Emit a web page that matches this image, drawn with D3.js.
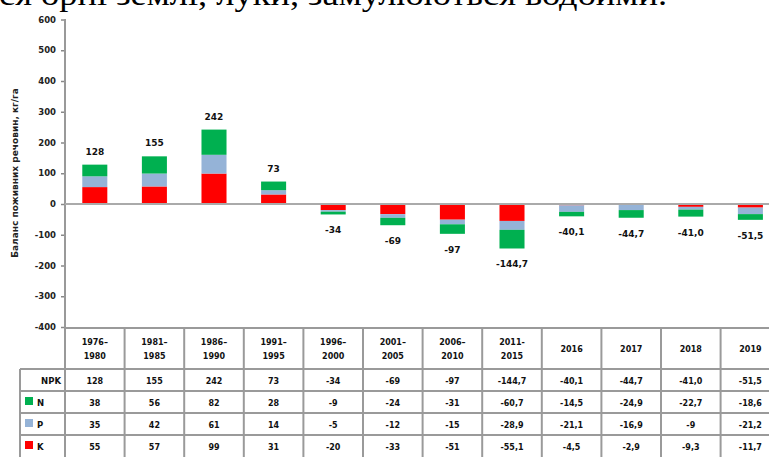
<!DOCTYPE html>
<html>
<head>
<meta charset="utf-8">
<script src="https://cdn.jsdelivr.net/npm/d3@7"></script>
<style>
  body { margin: 0; background: #fff; }
  svg { display: block; }
</style>
</head>
<body>
<div class="container"></div>
<script>
const WIDTH = 769;
const HEIGHT = 457;

// data
var categories = ["1976–\n1980", "1981–\n1985", "1986–\n1990", "1991–\n1995", "1996–\n2000",
    "2001–\n2005", "2006–\n2010", "2011-\n2015", "2016", "2017", "2018", "2019"];
var npk = [128, 155, 242, 73, -34, -69, -97, -144.7, -40.1, -44.7, -41.0, -51.5];
var nVals = [38, 56, 82, 28, -9, -24, -31, -60.7, -14.5, -24.9, -22.7, -18.6];
var pVals = [35, 42, 61, 14, -5, -12, -15, -28.9, -21.1, -16.9, -9, -21.2];
var kVals = [55, 57, 99, 31, -20, -33, -51, -55.1, -4.5, -2.9, -9.3, -11.7];
var yTicks = [-400, -300, -200, -100, 0, 100, 200, 300, 400, 500, 600];

var colors = { N: "#00b050", P: "#95b3d7", K: "#ff0000" };
var FONT = "DejaVu Sans";

var svg = d3.select(".container")
    .append("svg")
    .attr("width", WIDTH)
    .attr("height", HEIGHT);

// cut-off line of text above the chart
svg.append("text")
    .attr("x", -1)
    .attr("y", 5)
    .attr("font-family", "Liberation Serif")
    .attr("font-size", 32)
    .attr("textLength", 668)
    .attr("lengthAdjust", "spacingAndGlyphs")
    .attr("fill", "#000")
    .text("ся орні землі, луки, замулюються водойми.");

var xScale = d3.scaleBand()
    .domain(categories)
    .range([65, 65 + 12 * 59.6]);

var yScale = d3.scaleLinear()
    .domain([-400, 600])
    .range([327, 19.5]);

var rows = categories.map(function (c, i) {
    return { cat: c, N: nVals[i], P: pVals[i], K: kVals[i] };
});

var stack = d3.stack()
    .keys(["K", "P", "N"])
    .offset(d3.stackOffsetDiverging);
var series = stack(rows);

var barW = xScale.bandwidth() * 0.42;

// y axis
var yAxis = svg.append("g")
    .attr("transform", "translate(65,0)")
    .call(d3.axisLeft(yScale).tickValues(yTicks).tickSize(4).tickPadding(5)
        .tickFormat(function (d) { return String(d); }));
yAxis.select(".domain").remove();
yAxis.selectAll(".tick line").attr("stroke", "#888").attr("stroke-width", 1.5);
yAxis.selectAll(".tick text")
    .attr("font-family", FONT)
    .attr("font-size", 8.5)
    .attr("font-weight", "bold")
    .attr("fill", "#222");

svg.append("text")
    .attr("transform", "translate(18,173) rotate(-90)")
    .attr("text-anchor", "middle")
    .attr("font-family", FONT)
    .attr("font-size", 9)
    .attr("font-weight", "bold")
    .attr("fill", "#222")
    .text("Баланс поживних речовин, кг/га");

// bars
svg.append("g").selectAll("g")
    .data(series)
    .join("g")
    .attr("fill", function (s) { return colors[s.key]; })
    .selectAll("rect")
    .data(function (s) { return s; })
    .join("rect")
    .attr("x", function (d) { return xScale(d.data.cat) + (xScale.bandwidth() - barW) / 2; })
    .attr("width", barW)
    .attr("y", function (d) { return yScale(Math.max(d[0], d[1])); })
    .attr("height", function (d) { return Math.abs(yScale(d[0]) - yScale(d[1])); });

// axis line and zero line
svg.append("line")
    .attr("x1", 65).attr("x2", 65)
    .attr("y1", 19).attr("y2", HEIGHT)
    .attr("stroke", "#999").attr("stroke-width", 2);
svg.append("line")
    .attr("x1", 65).attr("x2", WIDTH)
    .attr("y1", yScale(0)).attr("y2", yScale(0))
    .attr("stroke", "#aaa").attr("stroke-width", 2);

function fmt(v, i, total) {
    if (total && i >= 7) return v.toFixed(1).replace(".", ",");
    return String(v).replace(".", ",");
}

// total labels
svg.append("g").selectAll("text")
    .data(npk)
    .join("text")
    .attr("x", function (d, i) { return xScale(categories[i]) + xScale.bandwidth() / 2; })
    .attr("y", function (d, i) {
        return d >= 0 ? yScale(d) - 10 : yScale(d) + 19;
    })
    .attr("text-anchor", "middle")
    .attr("font-family", FONT)
    .attr("font-size", 9)
    .attr("font-weight", "bold")
    .attr("fill", "#111")
    .text(function (d, i) { return fmt(d, i, true); });

// data table
var tableTop = 328, headH = 41, rowH = 22, labelX = 20;
var tableRows = [
    { name: "NPK", vals: npk, total: true },
    { name: "N", vals: nVals, color: colors.N },
    { name: "P", vals: pVals, color: colors.P },
    { name: "K", vals: kVals, color: colors.K }
];
var table = svg.append("g");
var lineColor = "#9a9a9a";

table.append("line")
    .attr("x1", 65).attr("x2", WIDTH)
    .attr("y1", tableTop).attr("y2", tableTop)
    .attr("stroke", lineColor).attr("stroke-width", 2);
tableRows.forEach(function (r, ri) {
    var y0 = tableTop + headH + ri * rowH;
    table.append("line")
        .attr("x1", labelX).attr("x2", WIDTH)
        .attr("y1", y0).attr("y2", y0)
        .attr("stroke", lineColor).attr("stroke-width", 2);
});
table.append("line")
    .attr("x1", labelX).attr("x2", labelX)
    .attr("y1", tableTop + headH).attr("y2", HEIGHT)
    .attr("stroke", lineColor).attr("stroke-width", 2);
table.selectAll(".vline")
    .data(categories.slice(1))
    .join("line")
    .attr("x1", function (c) { return xScale(c); })
    .attr("x2", function (c) { return xScale(c); })
    .attr("y1", tableTop).attr("y2", HEIGHT)
    .attr("stroke", lineColor).attr("stroke-width", 2);

// header labels
table.selectAll(".head")
    .data(categories)
    .join("text")
    .attr("text-anchor", "middle")
    .attr("font-family", FONT)
    .attr("font-size", 8)
    .attr("font-weight", "bold")
    .attr("fill", "#111")
    .each(function (c) {
        var parts = c.split("\n");
        var t = d3.select(this);
        var cx = xScale(c) + xScale.bandwidth() / 2;
        var startY = tableTop + headH / 2 + 3 - (parts.length - 1) * 6.5;
        parts.forEach(function (p, k) {
            t.append("tspan").attr("x", cx).attr("y", startY + k * 13.5).text(p);
        });
    });

// rows
tableRows.forEach(function (r, ri) {
    var cy = tableTop + headH + ri * rowH + rowH / 2 + 3.5;
    if (r.color) {
        table.append("rect")
            .attr("x", 25).attr("y", cy - 8.5)
            .attr("width", 8).attr("height", 8)
            .attr("fill", r.color);
        table.append("text")
            .attr("x", 37).attr("y", cy)
            .attr("font-family", FONT).attr("font-size", 8.5)
            .attr("font-weight", "bold")
            .attr("fill", "#111").text(r.name);
    } else {
        table.append("text")
            .attr("x", 61).attr("y", cy)
            .attr("text-anchor", "end")
            .attr("font-family", FONT).attr("font-size", 8.5)
            .attr("font-weight", "bold")
            .attr("fill", "#111").text(r.name);
    }
    table.append("g").selectAll("text")
        .data(r.vals)
        .join("text")
        .attr("x", function (d, i) { return xScale(categories[i]) + xScale.bandwidth() / 2; })
        .attr("y", cy)
        .attr("text-anchor", "middle")
        .attr("font-family", FONT)
        .attr("font-size", 8)
        .attr("font-weight", "bold")
        .attr("fill", "#111")
        .text(function (d, i) { return fmt(d, i, r.total); });
});
</script>
</body>
</html>
